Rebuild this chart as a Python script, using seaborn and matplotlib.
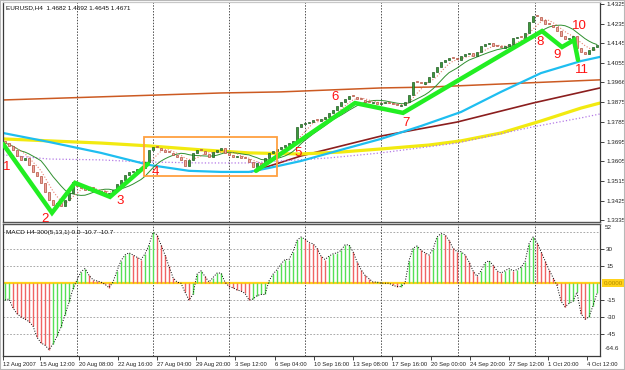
import numpy as np
import pandas as pd
import matplotlib
matplotlib.use('Agg')
import matplotlib.pyplot as plt
from matplotlib.patches import Rectangle
import seaborn as sns

sns.set_theme(style='white')
plt.rcParams['font.family'] = ['Liberation Sans', 'DejaVu Sans']

"""
Data read off the EURUSD H4 chart (one value per bar)
"""
closes = [
    1.3689, 1.3676, 1.3658, 1.3630, 1.3612, 1.3621, 1.3589, 1.3557, 1.3539, 1.3507,
    1.3466, 1.3429, 1.3406, 1.3415, 1.3402, 1.3429, 1.3461, 1.3511, 1.3493, 1.3484,
    1.3475, 1.3488, 1.3475, 1.3466, 1.3470, 1.3456, 1.3461, 1.3475, 1.3502, 1.3520,
    1.3543, 1.3557, 1.3562, 1.3571, 1.3575, 1.3603, 1.3658, 1.3671, 1.3667, 1.3658,
    1.3648, 1.3644, 1.3635, 1.3626, 1.3612, 1.3584, 1.3612, 1.3644, 1.3658, 1.3653,
    1.3639, 1.3626, 1.3648, 1.3658, 1.3667, 1.3644, 1.3635, 1.3626, 1.3630, 1.3621,
    1.3616, 1.3603, 1.3580, 1.3598, 1.3589, 1.3621, 1.3644, 1.3653, 1.3662, 1.3671,
    1.3680, 1.3689, 1.3699, 1.3763, 1.3776, 1.3781, 1.3785, 1.3795, 1.3790, 1.3799,
    1.3808, 1.3827, 1.3840, 1.3859, 1.3877, 1.3891, 1.3904, 1.3900, 1.3891, 1.3886,
    1.3877, 1.3872, 1.3877, 1.3868, 1.3872, 1.3872, 1.3868, 1.3863, 1.3859, 1.3863,
    1.3877, 1.3909, 1.3968, 1.3964, 1.3959, 1.3968, 1.3991, 1.4014, 1.4037, 1.4060,
    1.4069, 1.4078, 1.4073, 1.4069, 1.4087, 1.4096, 1.4101, 1.4087, 1.4105, 1.4133,
    1.4142, 1.4146, 1.4133, 1.4128, 1.4124, 1.4133, 1.4142, 1.4169, 1.4174, 1.4169,
    1.4192, 1.4242, 1.4270, 1.4265, 1.4252, 1.4233, 1.4229, 1.4220, 1.4201, 1.4178,
    1.4165, 1.4169, 1.4178, 1.4124, 1.4105, 1.4096, 1.4115, 1.4128, 1.4137,
]

macd = [
    -15, -14, -22, -27, -30, -32, -34, -38, -48, -53,
    -55, -59, -54, -47, -39, -28, -17, -5, 3, 10,
    13, 7, 3, 2, 1, -1, -4, 1, 11, 20,
    25, 27, 25, 23, 21, 26, 34, 45, 43, 34,
    25, 15, 5, 1, 0, -8, -15, -10, 8, 11,
    6, 1, 5, 9, 9, 1, -3, -4, -6, -7,
    -9, -15, -14, -11, -10, -10, 2, 8, 12, 17,
    21, 21, 28, 38, 41, 39, 36, 35, 31, 24,
    21, 24, 26, 27, 29, 34, 34, 28, 19, 12,
    7, 4, 1, 1, 0, 0, 0, -2, -3, -3,
    0, 20, 31, 33, 29, 27, 25, 30, 41, 44,
    43, 38, 31, 28, 28, 25, 19, 11, 6, 11,
    18, 20, 16, 11, 9, 11, 13, 11, 12, 14,
    19, 35, 41, 36, 28, 20, 12, 5, -2, -16,
    -21, -18, -16, -8, -27, -32, -30, -20, -9,
]

# slow moving averages / long lines, sampled at bar positions
cyan_x = [-0.5, 11, 24, 36, 46, 54, 61, 66, 74, 84, 94, 104, 114, 124, 134, 144, 148.75]
cyan_y = [1.3735, 1.3694, 1.3644, 1.3589, 1.3562, 1.3557, 1.3557, 1.3575, 1.3607, 1.3658,
          1.3708, 1.3767, 1.3831, 1.3923, 1.4009, 1.4064, 1.4083]
yellow_x = [-0.5, 11, 24, 36, 49, 61, 74, 84, 94, 106, 114, 124, 134, 144, 148.75]
yellow_y = [1.3708, 1.3699, 1.3689, 1.3676, 1.3658, 1.3644, 1.3639, 1.3648, 1.3662, 1.3680,
            1.3699, 1.3735, 1.3790, 1.3849, 1.3872]
purple_x = [-0.5, 11, 24, 34, 49, 61, 69, 81, 94, 113, 132, 144, 148.75]
purple_y = [1.3635, 1.3616, 1.3612, 1.3603, 1.3598, 1.3598, 1.3607, 1.3621, 1.3644, 1.3689,
            1.3763, 1.3804, 1.3822]
maroon_x = [61.5, 74, 94, 113, 132, 148.75]
maroon_y = [1.3557, 1.3630, 1.3721, 1.3785, 1.3872, 1.3941]
sienna_x = [-0.5, 54, 69, 94, 106, 124, 148.75]
sienna_y = [1.3886, 1.3918, 1.3923, 1.3941, 1.3945, 1.3959, 1.3978]

# hand drawn wave count
zz1_x = [-0.5, 11.75, 17.5, 26.25, 35.75]
zz1_y = [1.3685, 1.3370, 1.3507, 1.3443, 1.3594]
zz2_x = [62.75, 87.5, 99.5, 134.25, 139.25, 142.25, 143.25]
zz2_y = [1.3562, 1.3872, 1.3827, 1.4201, 1.4128, 1.4160, 1.4069]
wave_labels = ['1', '2', '3', '4', '5', '6', '7', '8', '9', '10', '11']
wave_x = [0.5, 10, 28.75, 37.5, 73.25, 82.5, 100.25, 133.75, 138, 143.5, 144.25]
wave_y = [1.3580, 1.3342, 1.3424, 1.3557, 1.3644, 1.3900, 1.3781, 1.4151, 1.4092, 1.4224, 1.4023]
box_x = [34.75, 68]
box_y = [1.3539, 1.3717]

date_pos = [-0.5, 8.75, 18.5, 28.25, 38, 47.75, 57.5, 67.5, 77.25, 87, 96.75, 106.5,
            116.25, 126, 135.75, 145.5]
date_labels = ['12 Aug 2007', '15 Aug 12:00', '20 Aug 08:00', '22 Aug 16:00', '27 Aug 04:00',
               '29 Aug 20:00', '3 Sep 12:00', '6 Sep 04:00', '10 Sep 16:00', '13 Sep 08:00',
               '17 Sep 16:00', '20 Sep 00:00', '24 Sep 20:00', '27 Sep 12:00', '1 Oct 20:00',
               '4 Oct 12:00']
grid_pos = [18, 37, 56, 75, 94, 113.25, 132.5]
price_ticks = [1.4325, 1.4235, 1.4145, 1.4055, 1.3966, 1.3875, 1.3785, 1.3695, 1.3605,
               1.3515, 1.3425, 1.3335]
macd_ticks = [30, 15, -15, -30, -45]

"""
Build frames
"""
df = pd.DataFrame({'bar': np.arange(len(closes)), 'close': closes, 'macd': macd})
df['open'] = df['close'].shift(1).fillna(1.3700)
df['ma_fast'] = df['close'].rolling(5, min_periods=1).mean()
df['ma_mid'] = df['close'].rolling(10, min_periods=1).mean()
df['up'] = df['close'] >= df['open']

fig = plt.figure(figsize=(6.25, 3.7), dpi=100)
ax1 = fig.add_axes([3 / 625, 1 - 222 / 370, 597 / 625, 220 / 370])
ax2 = fig.add_axes([3 / 625, 1 - 356 / 370, 597 / 625, 132 / 370])

# price panel
sns.lineplot(x=sienna_x, y=sienna_y, ax=ax1, color='#cc5a22', lw=1.1, zorder=2)
sns.lineplot(x=maroon_x, y=maroon_y, ax=ax1, color='#8b1e1e', lw=1.2, zorder=2)
sns.lineplot(x=yellow_x, y=yellow_y, ax=ax1, color='#f2ea10', lw=2.3, zorder=2)
sns.lineplot(x=purple_x, y=purple_y, ax=ax1, color='#b47ae6', lw=0.9, linestyle=':', zorder=2)
sns.lineplot(x=cyan_x, y=cyan_y, ax=ax1, color='#1ebef0', lw=1.6, zorder=2)
sns.lineplot(data=df, x='bar', y='ma_mid', ax=ax1, color='#2f8f2f', lw=0.7, zorder=3)
sns.lineplot(data=df, x='bar', y='ma_fast', ax=ax1, color='#e88070', lw=0.8, linestyle=':', zorder=3)

diff = df['close'] - df['open']
body = diff.where(diff.abs() > 0.0006, 0.0006)
ax1.bar(df['bar'], body, bottom=df['open'], width=0.65,
        color=np.where(df['up'], '#3c9a3c', '#f2a4a0'),
        edgecolor=np.where(df['up'], '#1e5a1e', '#b0503c'), linewidth=0.5, zorder=4)

ax1.plot(zz1_x, zz1_y, color='#22ee22', lw=3.2, solid_joinstyle='miter', zorder=5)
ax1.plot(zz2_x, zz2_y, color='#22ee22', lw=3.2, solid_joinstyle='miter', zorder=5)
ax1.add_patch(Rectangle((box_x[0], box_y[0]), box_x[1] - box_x[0], box_y[1] - box_y[0],
                        fill=False, ec='#ffa040', lw=1.3, zorder=6))
for lab, x, y in zip(wave_labels, wave_x, wave_y):
    ax1.text(x, y, lab, color='#ff1010', fontsize=9.5, ha='center', va='center', zorder=7)

ax1.text(0.005, 0.985, 'EURUSD,H4  1.4682 1.4692 1.4645 1.4671', transform=ax1.transAxes,
         fontsize=4.6, va='top', ha='left', color='#111111')

ax1.set_xlim(-0.5, 148.75)
ax1.set_ylim(1.3328, 1.4334)
ax1.yaxis.tick_right()
ax1.set_yticks(price_ticks)
ax1.set_yticklabels(['%.4f' % v for v in price_ticks])
ax1.set_xticks([])
ax1.set_xlabel('')
ax1.set_ylabel('')

# macd panel
bar_cols = np.where(df['macd'].diff().fillna(1) >= 0, '#55e055', '#f06464')
ax2.axhline(0, color='#ffd21a', lw=1.6, zorder=1)
for v in [45, 30, 15, -15, -30, -45]:
    ax2.axhline(v, color='#9a9a9a', lw=0.6, ls=(0, (2, 2)), zorder=1)
ax2.vlines(df['bar'], 0, df['macd'], colors=bar_cols, lw=1.0, zorder=2)
sns.lineplot(data=df, x='bar', y='macd', ax=ax2, color='black', lw=0.7, linestyle=':', zorder=3)
ax2.text(0.005, 0.955, 'MACD H4-300(5,13,1) 0.0 -10.7 -10.7', transform=ax2.transAxes,
         fontsize=4.6, va='top', ha='left', color='#111111')

ax2.set_xlim(-0.5, 148.75)
ax2.set_ylim(-64.6, 52.5)
ax2.yaxis.tick_right()
ax2.set_yticks(macd_ticks)
ax2.set_yticklabels([str(v) for v in macd_ticks])
ytr = ax2.get_yaxis_transform()
ax2.text(1.008, 49, '52', transform=ytr, fontsize=4.5, va='center', ha='left')
ax2.text(1.008, -58, '-64.6', transform=ytr, fontsize=4.5, va='center', ha='left')
ax2.text(1.006, 0, '0.0000', transform=ytr, fontsize=4.5, va='center', ha='left',
         color='#b08a00', bbox=dict(boxstyle='square,pad=0.2', fc='#ffd21a', ec='none'))
ax2.set_xticks(date_pos)
ax2.set_xticklabels(date_labels, ha='left')
ax2.set_xlabel('')
ax2.set_ylabel('')

for ax in (ax1, ax2):
    for x in grid_pos:
        ax.axvline(x, color='#505050', lw=0.7, ls=(0, (1.5, 1.5)), zorder=1)
    ax.tick_params(axis='both', which='both', labelsize=4.5, length=3, width=0.6, pad=1.5,
                   colors='#222222', direction='out')
    for s in ax.spines.values():
        s.set_color('#3a3a3a')
        s.set_linewidth(0.9)
ax2.tick_params(axis='x', bottom=True, labelsize=4.2, pad=1.5)
ax1.spines['bottom'].set_linewidth(1.0)
ax2.spines['top'].set_linewidth(1.0)
ax1.spines['bottom'].set_color('#555555')
ax2.spines['top'].set_color('#555555')
ax1.spines['top'].set_color('#c8c8c8')

fig.add_artist(Rectangle((0, 0), 1, 1, transform=fig.transFigure, fill=False,
                         ec='#b8b8b8', lw=1.5))

plt.savefig('out.png', dpi=100)
